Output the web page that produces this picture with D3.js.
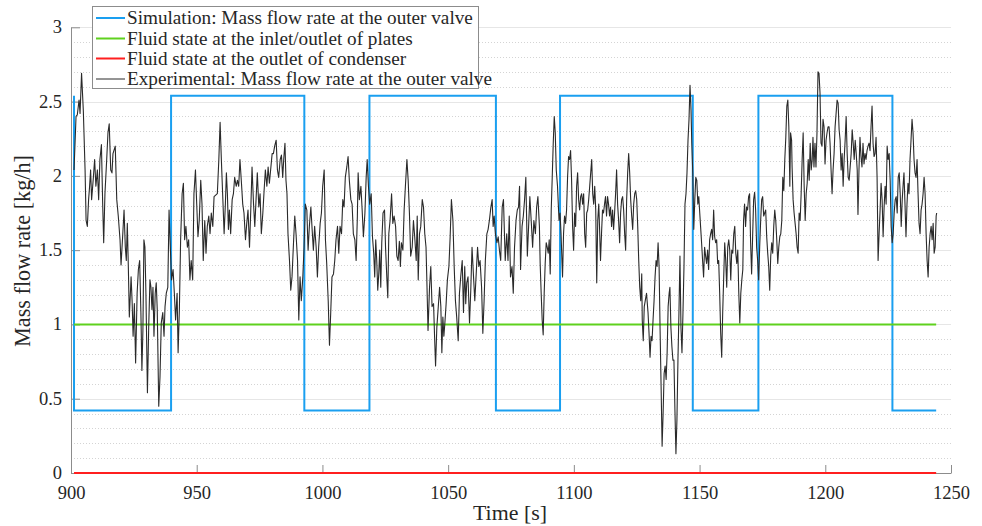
<!DOCTYPE html>
<html><head><meta charset="utf-8">
<script src="https://cdn.jsdelivr.net/npm/d3@7"></script>
<style>html,body{margin:0;padding:0;background:#fff;}svg{display:block;}</style>
</head><body>
<svg id="c" width="982" height="526"></svg>
<script>
// ---------- data ----------
const xTicks = [900, 950, 1000, 1050, 1100, 1150, 1200, 1250];
const yTicks = [0, 0.5, 1, 1.5, 2, 2.5, 3];
const seriesNames = [
  "Simulation: Mass flow rate at the outer valve",
  "Fluid state at the inlet/outlet of plates",
  "Fluid state at the outlet of condenser",
  "Experimental: Mass flow rate at the outer valve"
];
const seriesColors = ["#1a9ff0", "#5fd11e", "#ff1f1f", "#2a2a2a"];

const simTime = [901.2, 901.2, 939.8, 939.8, 992.8, 992.8, 1018.7, 1018.7, 1069.0, 1069.0, 1094.5, 1094.5, 1147.3, 1147.3, 1173.4, 1173.4, 1226.7, 1226.7, 1244.1];
const simFlow = [2.54, 0.42, 0.42, 2.54, 2.54, 0.42, 0.42, 2.54, 2.54, 0.42, 0.42, 2.54, 2.54, 0.42, 0.42, 2.54, 2.54, 0.42, 0.42];

const platesTime = [901.2, 1244.1];
const platesFlow = [1, 1];
const condTime = [901.2, 1244.1];
const condFlow = [0, 0];

const expTime = [
901.2,902.0,902.5,903.2,903.6,904.2,904.9,905.6,906.0,906.5,907.0,907.4,907.8,908.2,908.9,909.4,909.9,910.5,911.0,911.5,
912.1,912.6,913.0,913.5,914.2,914.7,915.2,915.8,916.3,916.7,917.6,918.2,918.8,919.5,919.9,920.6,921.1,921.6,922.0,922.4,
922.8,923.2,923.9,924.3,924.7,925.2,925.7,926.3,926.8,927.3,927.8,928.2,928.6,929.0,929.4,929.8,930.4,930.9,931.4,931.8,
932.2,932.6,933.0,933.5,933.9,934.3,934.9,935.4,935.9,936.5,937.0,937.4,937.9,938.5,939.0,939.5,940.0,940.6,941.1,941.6,
942.2,942.6,943.1,943.6,944.2,944.7,945.2,945.7,946.3,946.8,947.3,947.8,948.4,948.9,949.5,950.0,950.5,951.0,951.6,952.1,
952.6,953.2,953.7,954.2,954.8,955.3,955.8,956.4,956.9,
958.2,958.8,959.3,959.8,960.4,960.9,961.4,961.8,962.2,962.6,963.0,963.5,964.1,964.6,965.1,965.7,966.2,966.7,967.2,967.8,
968.3,968.8,969.4,969.9,970.4,971.0,971.5,972.0,972.6,973.1,973.6,974.1,974.7,975.2,975.7,976.3,976.8,977.3,977.9,978.4,
978.9,979.4,980.0,980.5,981.0,981.6,982.1,982.6,983.2,983.7,984.2,984.6,985.1,985.5,985.9,986.3,986.9,987.4,987.9,988.5,
989.0,989.5,990.1,990.6,991.1,991.6,992.2,992.7,993.2,993.8,994.3,994.8,995.4,995.9,996.4,996.9,997.5,998.0,998.5,999.1,
999.6,1000.1,1000.7,1001.2,1001.7,1002.3,1002.8,1003.3,1003.8,1004.4,1004.9,1005.4,1006.0,1006.5,1007.0,1007.6,1008.1,1008.6,1009.1,1009.7,
1010.2,1010.7,1011.3,1011.8,1012.3,1012.9,1013.4,1013.9,
1014.2,1014.7,1015.3,1015.8,1016.3,1016.9,1017.4,1017.8,1018.3,1018.8,1019.4,1019.9,1020.4,1020.8,1021.2,1021.6,1022.0,1022.4,1022.8,1023.2,
1023.6,1024.1,1024.7,1025.1,1025.6,1026.0,1026.4,1026.9,1027.5,1028.0,1028.5,1029.1,1029.6,1030.1,1030.6,1031.0,1031.4,1032.0,1032.5,1033.0,
1033.6,1034.1,1034.6,1035.1,1035.7,1036.2,1036.7,1037.3,1037.7,1038.1,1038.6,1039.1,1039.7,1040.2,1040.7,1041.2,1041.5,1042.0,1042.6,1043.1,
1043.6,1044.2,1044.6,1045.0,1045.5,1046.0,1046.6,1047.1,1047.5,1047.9,1048.3,1048.7,1049.2,1049.7,1050.3,1050.8,1051.3,1051.9,1052.4,1052.9,
1053.4,1054.0,1054.5,1055.0,1055.6,1056.1,1056.6,1057.0,1057.4,1057.9,1058.5,1059.0,1059.5,1060.1,1060.6,1061.1,1061.7,1062.2,1062.7,1063.3,
1063.8,1064.3,1064.8,1065.4,1065.9,1066.4,1067.0,1067.5,1067.9,1068.3,1068.8,1069.4,1069.9,1070.4,1070.9,1071.5,1072.0,
1072.7,1073.3,1073.8,1074.3,1074.8,1075.4,1075.9,1076.4,1077.0,1077.5,1078.0,1078.4,1078.8,1079.4,1079.9,1080.4,1080.9,1081.5,1082.0,1082.5,
1083.1,1083.6,1084.1,1084.7,1085.2,1085.7,1086.3,1086.6,1087.0,1087.4,1087.8,1088.2,1088.6,1089.0,1089.4,1089.8,1090.2,1090.6,1091.0,1091.4,
1091.8,1092.2,1092.6,1093.0,1093.5,1094.1,1094.5,1094.9,1095.3,1095.5,1095.9,1096.3,1096.7,1097.1,1097.5,1097.9,1098.3,1098.7,1099.1,1099.5,
1099.9,1100.3,1100.7,1101.1,1101.5,1101.9,1102.3,1102.7,1103.1,1103.5,1103.9,1104.3,1104.7,1105.1,1105.5,1105.9,1106.3,1106.7,1107.1,1107.5,
1107.9,1108.3,1108.7,1109.1,1109.5,1109.9,1110.2,1110.6,1111.0,1111.4,1111.8,1112.2,1112.6,1113.0,1113.4,1113.8,1114.2,1114.6,1115.0,1115.4,
1115.8,1116.2,1116.6,1117.0,1117.4,1117.8,1118.2,1118.6,1119.0,1119.4,1119.8,1120.2,1120.6,1121.0,1121.4,1121.8,1122.2,1122.6,1123.0,1123.4,
1123.8,1124.2,1124.6,1125.0,1125.4,1125.8,1126.2,1126.6,1127.0,1127.2,1127.6,1128.0,1128.4,1128.9,
1129.5,1129.9,1130.3,1130.7,1131.1,1131.5,1131.9,1132.3,1132.7,1133.1,1133.5,1133.9,1134.3,1134.7,1135.1,1135.5,1135.9,1136.3,1136.7,1137.1,
1137.5,1137.9,1138.2,1138.6,1139.0,1139.4,1139.8,1140.2,1140.6,1141.0,1141.4,1141.8,1142.2,1142.6,1143.0,1143.4,1143.8,1144.2,1144.6,1145.0,
1145.4,1145.8,1146.2,1146.6,1146.9,1147.3,1147.7,1148.1,1148.5,1148.9,1149.3,1149.7,1150.0,1150.4,1150.8,1151.2,1151.6,1152.0,1152.4,1152.8,
1153.2,1153.6,1154.0,1154.4,1154.8,1155.2,1155.6,1156.0,1156.4,1156.8,1157.2,1157.6,1158.0,1158.4,1158.8,1159.2,1159.6,1160.0,1160.4,1160.8,
1161.2,1161.6,1162.0,1162.4,1162.8,1163.2,1163.6,1164.0,1164.4,1164.8,1165.2,1165.6,1166.0,1166.4,1166.8,1167.2,1167.5,1167.9,1168.3,1168.7,
1169.1,1169.5,1169.9,1170.3,1170.7,1171.1,1171.5,1171.9,1172.3,1172.7,1173.1,1173.5,1173.9,1174.3,1174.7,1175.1,1175.5,1175.9,1176.3,1176.7,
1177.1,1177.5,1177.9,1178.3,1178.7,1179.1,1179.5,1179.9,1180.3,1180.7,1181.1,1181.5,1181.9,1182.3,1182.7,1183.1,1183.5,1183.9,1184.3,1184.7,
1185.1,1185.5,1185.9,1186.2,1186.6,
1186.8,1187.2,1187.6,1188.0,1188.4,1188.8,1189.2,1189.6,1190.0,1190.4,1190.8,1191.2,1191.6,1192.0,1192.4,1192.8,1193.2,1193.6,1194.0,1194.4,
1194.8,1195.1,1195.5,1195.9,1196.3,1196.7,1197.1,1197.5,1197.9,1198.3,1198.7,1199.1,1199.5,1199.9,1200.3,1200.7,1201.1,1201.5,1201.9,1202.3,
1202.7,1203.1,1203.5,1203.9,1204.3,1204.7,1205.1,1205.5,1205.9,1206.3,1206.7,1207.1,1207.5,1207.9,1208.3,1208.7,1209.1,1209.5,1209.9,1210.3,
1210.7,1211.1,1211.5,1211.9,1212.3,1212.7,1213.0,1213.4,1213.8,1214.2,1214.6,1215.0,1215.4,1215.8,1216.2,1216.6,1217.0,1217.4,1217.8,1218.2,
1218.6,1219.0,1219.4,1219.8,1220.2,1220.6,1221.0,1221.4,1221.8,1222.2,1222.6,1223.0,1223.4,1223.8,1224.2,1224.6,1225.0,1225.4,1225.8,1226.2,
1226.6,1227.0,1227.4,1227.8,1228.2,1228.6,1229.0,1229.4,1229.8,1230.2,1230.6,1231.0,1231.3,1231.7,1232.1,1232.5,1232.9,1233.3,1233.7,1234.1,
1234.5,1234.9,1235.3,1235.7,1236.1,1236.5,1236.9,1237.3,1237.7,1238.1,1238.5,1238.9,1239.3,1239.7,1240.1,1240.5,1240.9,1241.3,1241.7,1242.1,
1242.5,1242.9,1243.3,1243.7,1244.1,1244.3
];
const expFlow = [
2.04,2.40,2.41,2.51,2.42,2.69,2.44,2.04,1.70,1.66,1.84,1.93,2.04,1.84,1.99,2.11,1.93,2.04,1.84,2.11,
2.21,1.81,1.55,1.88,2.11,2.29,2.35,2.04,2.02,2.15,2.20,1.84,1.73,1.57,1.40,1.61,1.77,1.52,1.43,1.68,
1.39,1.05,1.32,1.16,0.92,1.14,0.74,1.21,1.37,1.43,1.08,0.69,0.96,1.57,1.52,1.21,0.54,0.98,1.30,1.25,
1.10,1.25,0.92,1.21,1.28,1.10,0.45,0.65,1.01,1.08,0.92,1.12,1.21,1.25,1.77,1.52,1.30,1.37,1.21,1.03,
1.21,0.81,1.10,1.57,1.88,1.95,1.57,1.66,1.52,1.57,1.30,1.43,1.30,1.88,2.04,1.81,1.59,1.70,1.97,1.81,
1.43,1.70,1.48,1.66,1.73,1.61,1.75,1.66,1.86,
1.88,2.11,2.36,2.11,1.84,1.61,1.81,2.02,1.88,1.64,1.77,1.61,1.84,1.88,1.99,1.93,1.97,1.93,2.11,1.95,
1.81,1.75,1.57,1.68,1.77,1.52,1.77,2.06,1.81,1.66,1.84,2.02,1.79,1.88,1.61,1.75,1.90,2.04,1.93,2.06,
1.95,2.04,2.15,2.15,2.20,2.24,2.04,1.99,2.11,2.14,1.99,2.11,2.22,1.97,1.88,1.61,1.43,1.23,1.32,1.55,
1.73,1.61,1.43,1.03,1.32,1.16,1.32,1.52,1.81,1.77,1.50,1.66,1.79,1.64,1.50,1.66,1.52,1.32,1.52,1.68,
1.75,1.93,2.04,1.57,1.41,1.16,0.86,1.08,1.32,1.34,1.43,1.57,1.66,1.48,1.66,1.61,1.84,1.79,1.99,2.06,
2.13,1.97,1.84,1.81,1.61,1.57,1.43,1.73,
2.02,1.84,1.93,1.77,1.59,1.75,1.99,2.11,1.93,1.81,1.88,1.59,1.48,1.32,1.57,1.43,1.23,1.34,1.50,1.25,
1.55,1.75,1.77,1.52,1.32,1.18,1.61,1.70,1.88,1.68,1.73,1.66,1.46,1.43,1.56,1.39,1.55,1.50,1.77,1.93,
2.11,1.97,1.75,1.46,1.52,1.70,1.59,1.43,1.73,1.30,1.61,1.66,1.84,1.79,1.61,1.52,1.32,0.96,1.25,1.39,
1.12,1.14,0.92,0.72,0.98,1.10,1.25,1.12,0.81,1.05,0.92,1.01,1.14,1.30,1.39,1.59,1.84,1.70,1.39,1.16,
1.05,0.89,1.21,1.32,1.43,1.08,1.39,1.14,1.28,1.32,1.01,1.23,1.52,1.32,1.16,1.32,1.52,1.39,1.43,1.25,
0.94,1.16,1.43,1.61,1.64,1.70,1.79,1.84,1.66,1.73,1.61,1.55,1.59,1.50,1.43,1.79,1.84,
1.43,1.61,1.43,1.73,1.32,1.39,1.21,1.52,1.70,1.77,1.79,1.93,1.37,1.66,1.73,1.84,1.99,1.46,1.66,1.86,
1.68,1.52,1.70,1.61,1.79,1.86,1.66,1.41,1.21,1.03,0.93,1.21,1.41,1.55,1.52,1.48,1.57,1.34,1.77,1.99,
2.22,2.40,2.29,2.04,1.93,1.70,1.75,1.61,1.41,1.32,1.61,1.73,1.68,1.77,1.99,2.13,2.11,2.17,1.97,1.66,
1.50,1.75,1.66,1.93,2.02,1.84,1.77,1.86,1.88,1.81,1.88,1.61,1.52,1.75,1.77,1.84,1.93,2.02,2.11,1.88,
1.81,1.93,1.77,1.28,1.70,1.81,1.66,1.43,1.61,1.77,1.75,1.81,1.86,1.73,1.86,1.81,1.73,1.79,1.66,1.77,
1.64,1.75,1.88,2.04,1.81,1.70,1.55,1.75,1.84,1.86,1.77,1.61,1.50,1.84,2.02,2.15,2.02,1.84,1.73,1.64,
1.81,1.88,1.90,1.84,1.66,1.43,1.25,1.16,1.34,1.03,0.89,1.12,1.16,1.21,
1.08,0.94,0.78,0.92,0.89,1.03,1.16,1.32,1.43,1.39,1.55,1.39,0.96,0.58,0.18,0.40,0.67,0.72,0.63,0.81,
1.12,1.21,1.25,0.98,0.85,0.76,0.76,0.42,0.13,0.36,0.76,1.08,1.46,0.98,0.81,1.08,1.39,1.81,1.88,2.02,
2.24,2.38,2.61,2.44,2.22,2.02,1.64,1.84,1.99,1.97,1.81,1.86,1.77,1.66,1.55,1.43,1.32,1.52,1.46,1.41,
1.50,1.37,1.57,1.61,1.64,1.57,1.77,1.59,1.55,1.57,1.41,1.43,1.21,0.94,0.78,1.08,1.32,1.55,1.43,1.25,
1.52,1.57,1.50,1.30,1.50,1.48,1.61,1.66,1.48,1.41,1.50,1.21,1.01,1.21,1.30,1.37,1.70,1.81,1.66,1.79,
1.77,1.86,1.88,1.55,1.34,1.59,1.84,1.89,1.77,1.52,1.43,1.30,1.52,1.70,1.84,1.86,1.73,1.75,1.77,1.59,
1.48,1.39,1.23,1.46,1.55,1.48,1.66,1.77,1.70,1.57,1.41,1.52,1.59,1.61,1.70,1.99,1.90,2.11,2.26,2.47,
2.51,2.33,1.93,2.29,2.24,
2.06,1.84,1.75,1.68,1.61,1.52,1.48,1.75,1.70,1.88,2.11,2.29,1.93,1.70,1.88,1.95,2.11,1.97,2.22,2.04,
2.11,2.26,2.06,2.22,2.06,2.29,2.70,2.69,2.56,2.22,2.20,2.38,2.33,2.08,2.24,2.29,2.33,2.33,2.22,2.04,
1.88,2.04,2.15,2.33,2.42,2.51,2.49,2.31,2.24,2.04,2.15,1.93,2.11,2.24,2.40,2.15,1.99,1.97,2.06,2.15,
2.31,2.22,2.11,2.24,2.15,2.04,1.74,2.04,2.26,2.13,2.06,2.22,2.08,2.15,2.11,2.17,2.20,2.22,2.17,2.33,
2.47,2.22,2.13,2.15,2.26,1.99,1.43,1.61,1.77,1.95,1.84,1.59,1.79,1.93,1.81,2.20,2.11,2.15,1.97,1.66,
1.55,1.61,1.75,1.84,1.86,1.75,1.99,2.02,1.88,1.66,1.84,1.95,2.02,1.81,1.59,1.81,1.95,1.88,2.11,2.24,
2.38,2.29,2.11,2.02,1.99,2.11,1.88,1.68,1.61,1.77,1.81,1.88,1.99,1.88,1.61,1.43,1.32,1.52,1.61,1.66,
1.57,1.68,1.48,1.52,1.73,1.75
];

// ---------- layout ----------
(function () {
const svg = d3.select("#c");
const FONT = "'Liberation Serif', 'DejaVu Serif', serif";
const pL = 71, pR = 951, pT = 27.3, pB = 473;

const x = d3.scaleLinear().domain([900, 1250]).range([pL, pR]);
const y = d3.scaleLinear().domain([0, 3]).range([pB, pT]);

function fit(sel, base, target) {
  const len = sel.node().getComputedTextLength();
  return base * target / len;
}

// gridlines
const minor = d3.range(1, 30).map(i => i / 10).filter(v => Math.abs(v * 2 - Math.round(v * 2)) > 1e-6);
svg.append("g").selectAll("line").data(minor).join("line")
  .attr("x1", pL).attr("x2", pR)
  .attr("y1", d => Math.round(y(d)) + 0.5).attr("y2", d => Math.round(y(d)) + 0.5)
  .attr("stroke", "#d4d4d4").attr("stroke-width", 1).attr("stroke-dasharray", "1,2");
svg.append("g").selectAll("line").data(yTicks.filter(v => v > 0)).join("line")
  .attr("x1", pL).attr("x2", pR)
  .attr("y1", d => Math.round(y(d)) + 0.5).attr("y2", d => Math.round(y(d)) + 0.5)
  .attr("stroke", "#e6e6e6").attr("stroke-width", 1);

// axes
const gx = svg.append("g").attr("transform", `translate(0,${pB})`)
  .call(d3.axisBottom(x).tickValues(xTicks).tickFormat(d3.format("d")).tickSizeInner(-8).tickSizeOuter(0).tickPadding(14));
const gy = svg.append("g").attr("transform", `translate(${pL},0)`)
  .call(d3.axisLeft(y).tickValues(yTicks).tickFormat(d => String(d)).tickSizeInner(-9).tickSizeOuter(0).tickPadding(9));
[gx, gy].forEach(g => {
  g.attr("font-family", null);
  g.select(".domain").attr("stroke", "#8c8c8c");
  g.selectAll(".tick line").attr("stroke", "#8c8c8c");
  g.selectAll(".tick text").attr("fill", "#262626").style("font-family", FONT).style("font-size", "18.5px");
});
gx.selectAll(".tick text").attr("dy", "0.66em");
gy.selectAll(".tick text").attr("dy", "0.30em");

// axis titles
const xt = svg.append("text").attr("x", 510).attr("y", 520)
  .attr("text-anchor", "middle").attr("fill", "#262626")
  .style("font-family", FONT).style("font-size", "20px").text("Time [s]");
xt.style("font-size", fit(xt, 20, 74).toFixed(2) + "px");
const yt = svg.append("text").attr("transform", `translate(30,251) rotate(-90)`)
  .attr("text-anchor", "middle").attr("fill", "#262626")
  .style("font-family", FONT).style("font-size", "20px").text("Mass flow rate [kg/h]");
yt.style("font-size", fit(yt, 20, 192).toFixed(2) + "px");

// series
const line = d3.line().x(d => x(d[0])).y(d => y(d[1]));
const zip = (a, b) => a.map((t, i) => [t, b[i]]);
svg.append("path").datum(zip(simTime, simFlow)).attr("d", line)
  .attr("fill", "none").attr("stroke", seriesColors[0]).attr("stroke-width", 2);
svg.append("path").datum(zip(platesTime, platesFlow)).attr("d", line)
  .attr("fill", "none").attr("stroke", seriesColors[1]).attr("stroke-width", 2);
svg.append("path").datum(zip(condTime, condFlow)).attr("d", line)
  .attr("fill", "none").attr("stroke", seriesColors[2]).attr("stroke-width", 2);
svg.append("path").datum(zip(expTime, expFlow)).attr("d", line)
  .attr("fill", "none").attr("stroke", seriesColors[3]).attr("stroke-width", 1.1).attr("stroke-linejoin", "round");

// legend
const lg = svg.append("g");
lg.append("rect").attr("x", 92.5).attr("y", 6.5).attr("width", 386).attr("height", 82)
  .attr("fill", "#fff").attr("stroke", "#8c8c8c").attr("stroke-width", 1);
const rowY = [18, 38.5, 58.5, 79];
seriesNames.forEach((n, i) => {
  lg.append("line").attr("x1", 96).attr("x2", 125).attr("y1", rowY[i]).attr("y2", rowY[i])
    .attr("stroke", seriesColors[i]).attr("stroke-width", i === 3 ? 1 : 2);
  lg.append("text").attr("x", 127).attr("y", rowY[i] + 6).attr("fill", "#262626")
    .style("font-family", FONT).style("font-size", "18px").text(n);
});
const fs = fit(lg.select("text"), 18, 346);
lg.selectAll("text").style("font-size", fs.toFixed(2) + "px");
})();
</script>
</body></html>
